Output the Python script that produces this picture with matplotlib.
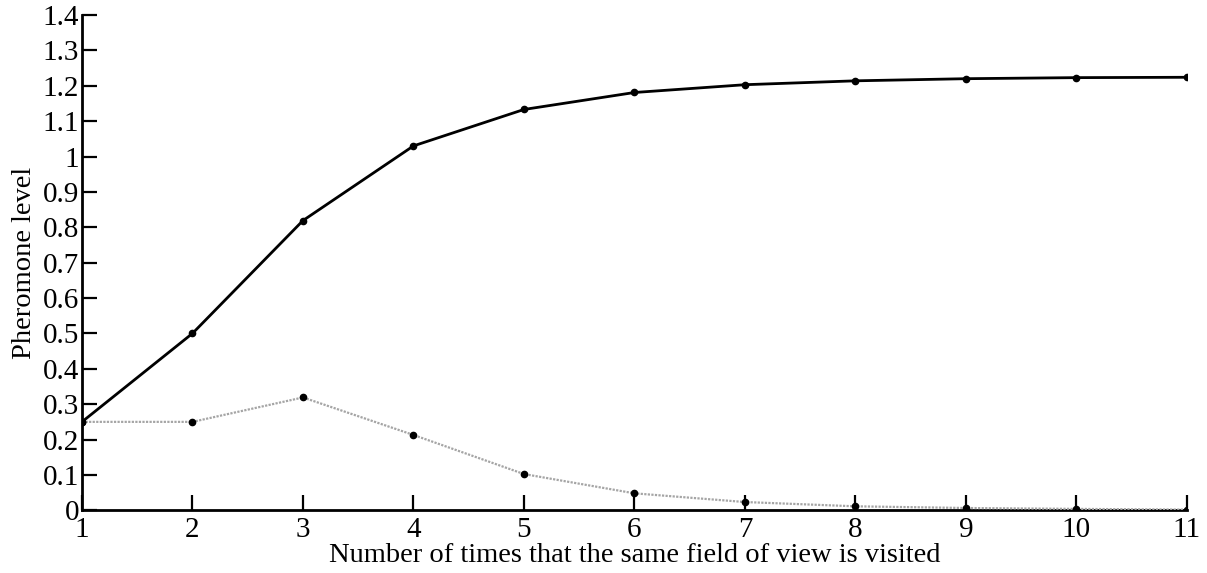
import matplotlib
matplotlib.use("Agg")
import matplotlib.pyplot as plt

visits = [1, 2, 3, 4, 5, 6, 7, 8, 9, 10, 11]
pheromone_black = [0.25, 0.50, 0.819, 1.030, 1.133, 1.181, 1.203, 1.214, 1.220, 1.223, 1.224]
pheromone_gray = [0.25, 0.25, 0.319, 0.213, 0.1025, 0.048, 0.0234, 0.0113, 0.0065, 0.004, 0.002]
yticks = [0, 0.1, 0.2, 0.3, 0.4, 0.5, 0.6, 0.7, 0.8, 0.9, 1, 1.1, 1.2, 1.3, 1.4]
yticklabels = ["0", "0.1", "0.2", "0.3", "0.4", "0.5", "0.6", "0.7", "0.8", "0.9", "1", "1.1", "1.2", "1.3", "1.4"]

plt.rcParams['font.family'] = ['Liberation Serif', 'DejaVu Serif']

fig = plt.figure(figsize=(12.07, 5.73), dpi=100)
ax = fig.add_axes([0.0679, 0.1094, 0.9155, 0.8644])

ax.plot(visits, pheromone_gray, color='#a5a5a5', linestyle=(0, (1, 0.6)), linewidth=1.6,
        marker='o', markersize=4.5, markerfacecolor='black', markeredgecolor='black', zorder=3)
ax.plot(visits, pheromone_black, color='black', linewidth=2.0,
        marker='o', markersize=4.5, markerfacecolor='black', markeredgecolor='black', zorder=4)

ax.set_xlim(1, 11)
ax.set_ylim(0, 1.4)
ax.set_xticks(visits)
ax.set_xticklabels([str(v) for v in visits])
ax.set_yticks(yticks)
ax.set_yticklabels(yticklabels)

for s in ['top', 'right']:
    ax.spines[s].set_visible(False)
for s in ['left', 'bottom']:
    ax.spines[s].set_linewidth(2.0)

ax.tick_params(axis='both', direction='in', length=11, width=1.6, labelsize=21, pad=2)
ax.tick_params(axis='x', pad=5)

ax.set_xlabel('Number of times that the same field of view is visited', fontsize=20.5)
ax.xaxis.set_label_coords(0.5, -0.066)
ax.set_ylabel('Pheromone level', fontsize=20.5)
ax.yaxis.set_label_coords(-0.041, 0.5)

fig.savefig('out.png', dpi=100)
